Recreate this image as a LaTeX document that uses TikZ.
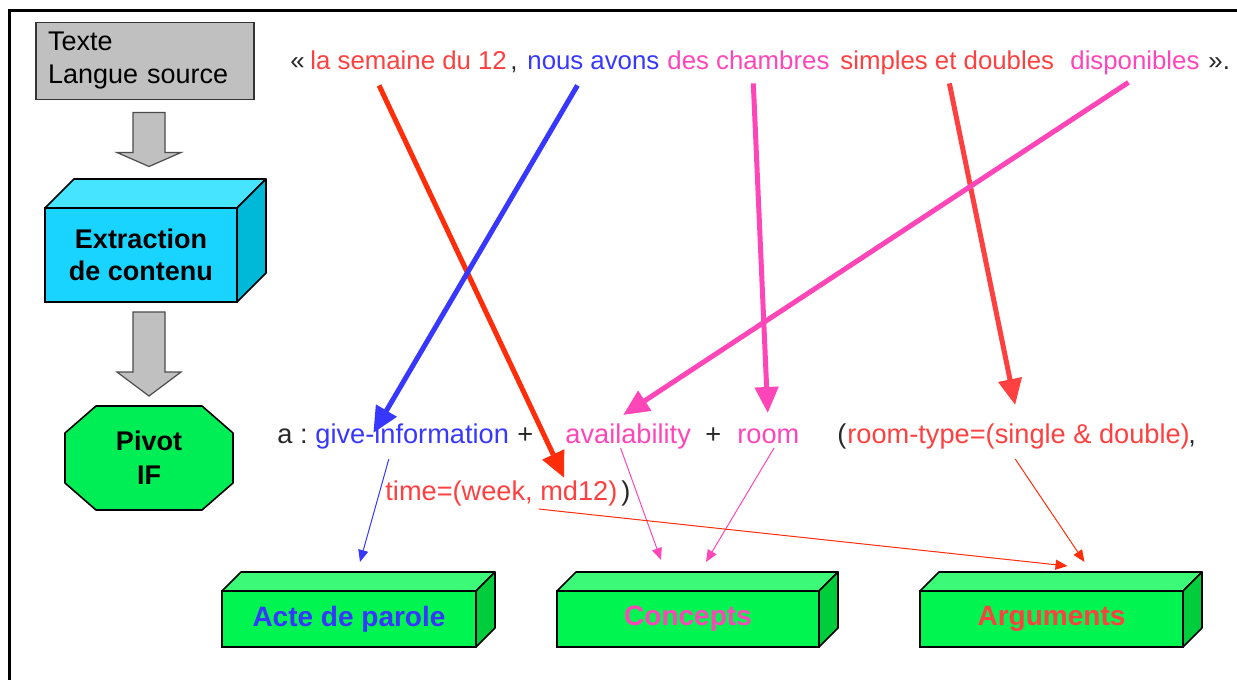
\documentclass[tikz,border=0pt]{standalone}
\usepackage{fontspec}
\setmainfont{Liberation Sans}
\usepackage{tikz}
\usetikzlibrary{arrows.meta,positioning,calc}
\definecolor{redtxt}{RGB}{255,64,64}
\definecolor{bluetxt}{RGB}{55,55,255}
\definecolor{pinktxt}{RGB}{255,70,185}
\definecolor{darktxt}{RGB}{40,40,40}
\definecolor{redarr}{RGB}{255,45,10}
\definecolor{cyanfront}{RGB}{25,212,255}
\definecolor{cyantop}{RGB}{70,228,255}
\definecolor{cyanside}{RGB}{0,184,216}
\definecolor{greenfront}{RGB}{0,245,80}
\definecolor{greentop}{RGB}{60,250,120}
\definecolor{greenside}{RGB}{0,205,60}
\definecolor{pivotgreen}{RGB}{0,238,85}
\definecolor{boxgray}{RGB}{192,192,192}
% top and side faces of a box drawn on a node
\newcommand{\cubefaces}[4]{%
  \draw[cubeline, fill=#3] (#1.north west) -- ([shift={(#2,-#2)}]#1.north west)
    -- ([shift={(#2,-#2)}]#1.north east) -- (#1.north east) -- cycle;
  \draw[cubeline, fill=#4] (#1.north east) -- ([shift={(#2,-#2)}]#1.north east)
    -- ([shift={(#2,-#2)}]#1.south east) -- (#1.south east) -- cycle;}

\begin{document}
\begin{tikzpicture}[
    x=0.5pt, y=-0.5pt,
    cubeline/.style={draw=black, line width=0.8pt, line join=round},
    word/.style={anchor=base west, inner xsep=0pt, inner ysep=5pt, text depth=3pt, font=\fontsize{12.9}{15}\selectfont},
    term/.style={anchor=base west, inner xsep=0pt, inner ysep=1pt, text height=9.5pt, text depth=3pt, font=\fontsize{13.6}{16}\selectfont},
    front/.style={draw=black, line width=0.8pt, inner sep=0pt, outer sep=0pt, font=\bfseries\fontsize{14}{16}\selectfont},
    blockarr/.style={draw=black!70, fill=boxgray, line width=0.6pt, line join=miter},
    bigarr/.style={line width=2.5pt, -{Triangle[length=13pt,width=11.5pt]}},
    smallarr/.style={line width=0.5pt, -{Triangle[length=6pt,width=5pt]}}
]
\useasboundingbox (0,0) rectangle (1237,680);
\draw[line width=1.5pt] (9,680) -- (9,10) -- (1237,10);

% left column
\node[draw=black!80, fill=boxgray, line width=0.8pt, outer sep=0pt, inner xsep=6pt,
      minimum height=38.5pt, text width=97pt, align=left,
      font=\fontsize{13.5}{16.5}\selectfont] (texte) at (145,61) {Texte\\Langue source};
\node[front, fill=cyanfront, minimum width=96pt, minimum height=47pt, align=center,
      font=\bfseries\fontsize{13.5}{16}\selectfont] (extr) at (141,255) {Extraction\\de contenu};
\cubefaces{extr}{29}{cyantop}{cyanside}
\coordinate (pivotc) at (149,458);
\draw[draw=black, line width=0.8pt, fill=pivotgreen, line join=round]
    ([shift={(-53,-52)}]pivotc) -- ([shift={(53,-52)}]pivotc) -- ([shift={(84,-25)}]pivotc)
    -- ([shift={(84,25)}]pivotc) -- ([shift={(53,52)}]pivotc) -- ([shift={(-53,52)}]pivotc)
    -- ([shift={(-84,25)}]pivotc) -- ([shift={(-84,-25)}]pivotc) -- cycle;
\node[align=center, inner sep=0pt, font=\bfseries\fontsize{13.5}{17}\selectfont] (pivot) at (pivotc) {Pivot\\IF};
\draw[blockarr] ([shift={(-12,13)}]texte.south) -- ++(32,0) -- ++(0,40) -- ++(16,0)
    -- ++(-32,14) -- ++(-32,-14) -- ++(16,0) -- cycle;
\draw[blockarr] ([shift={(-8,10)}]extr.south) -- ++(32,0) -- ++(0,60) -- ++(16,0)
    -- ++(-32,24) -- ++(-32,-24) -- ++(16,0) -- cycle;

% source sentence
\node[word, text=darktxt] (lq) at (290,69) {«};
\node[word, text=redtxt] (sem) at (310,69) {la semaine du 12};
\node[word, text=darktxt] (c1) at (510,69) {,};
\node[word, text=bluetxt] (nous) at (527,69) {nous avons};
\node[word, text=pinktxt] (cham) at (667,69) {des chambres};
\node[word, text=redtxt] (simp) at (840,69) {simples et doubles};
\node[word, text=pinktxt] (disp) at (1070,69) {disponibles};
\node[word, text=darktxt] (rq) at (1208,69) {».};

% interlingua
\node[term, text=darktxt] (a) at (277,443) {a :};
\node[term, text=bluetxt] (give) at (315,443) {give-information};
\node[term, text=darktxt] (p1) at (517,443) {+};
\node[term, text=pinktxt] (avail) at (565,443) {availability};
\node[term, text=darktxt] (p2) at (705,443) {+};
\node[term, text=pinktxt] (room) at (737,443) {room};
\node[term, text=darktxt] (lp) at (837,443) {(};
\node[term, text=redtxt] (rtype) at (847,443) {room-type=(single \& double)};
\node[term, text=darktxt] (c2) at (1188,443) {,};
\node[term, text=redtxt] (time) at (385,500) {time=(week, md12)};
\node[term, text=darktxt] (rp) at (621,500) {)};

% categories
\node[front, fill=greenfront, minimum width=127pt, minimum height=28pt, text=bluetxt] (acte) at (349,619) {Acte de parole};
\cubefaces{acte}{19}{greentop}{greenside}
\node[front, fill=greenfront, minimum width=131pt, minimum height=28pt, text=pinktxt] (conc) at (688,619) {Concepts};
\cubefaces{conc}{19}{greentop}{greenside}
\node[front, fill=greenfront, minimum width=131.5pt, minimum height=28pt, text=redtxt] (args) at (1051.5,619) {Arguments};
\cubefaces{args}{19}{greentop}{greenside}

% thick arrows
\draw[bigarr, redarr] ($(sem.south west)!0.35!(sem.south east)$) -- ($(time.base west)!0.77!(time.base east)+(0,-22)$);
\draw[bigarr, bluetxt] ($(nous.south west)!0.38!(nous.south east)$) -- ($(give.base west)!0.30!(give.base east)+(0,-10)$);
\draw[bigarr, pinktxt] ($(cham.south west)!0.53!(cham.south east)+(0,-2)$) -- ($(room.base west)!0.49!(room.base east)+(0,-30)$);
\draw[bigarr, redtxt] ($(simp.south west)!0.51!(simp.south east)+(0,-2)$) -- ($(rtype.base west)!0.49!(rtype.base east)+(0,-38)$);
\draw[bigarr, pinktxt] ($(disp.south west)!0.45!(disp.south east)+(0,-3)$) -- ($(avail.base west)!0.46!(avail.base east)+(0,-28)$);

% thin arrows
\draw[smallarr, bluetxt] ($(give.base west)!0.38!(give.base east)+(0,16)$) -- ([shift={(11,-29)}]acte.north);
\draw[smallarr, pinktxt] ($(avail.base west)!0.44!(avail.base east)+(0,5)$) -- ([shift={(-27,-31)}]conc.north);
\draw[smallarr, pinktxt] ($(room.base west)!0.59!(room.base east)+(0,5)$) -- ([shift={(18,-29)}]conc.north);
\draw[smallarr, redarr] ($(rtype.base west)!0.49!(rtype.base east)+(0,16)$) -- ([shift={(33,-29)}]args.north);
\draw[smallarr, redarr] ($(time.base west)!0.66!(time.base east)+(0,9)$) -- ([shift={(16,-25)}]args.north);
\end{tikzpicture}
\end{document}
